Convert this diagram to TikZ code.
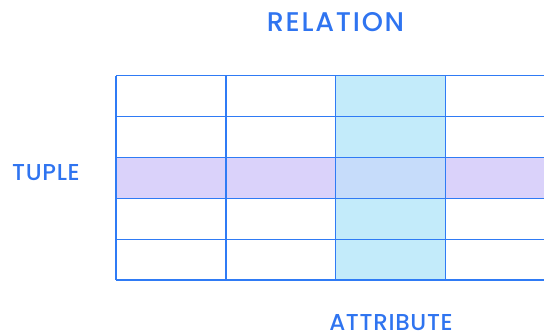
\documentclass[tikz,border=0pt]{standalone}
\usepackage{fontspec}
\setmainfont{Poppins Medium}
\definecolor{gridblue}{HTML}{2F7BF5}
\definecolor{colfill}{HTML}{C3EBFA}
\definecolor{rowfill}{HTML}{DAD2FA}
\definecolor{bothfill}{HTML}{C6DCFA}
\definecolor{labelblue}{HTML}{2F74F0}
\tikzset{
  gridline/.style={draw=gridblue, line width=1.6pt},
  title/.style={text=labelblue, font=\fontsize{27}{30}\selectfont\addfontfeatures{LetterSpace=6.5}, inner sep=0pt, anchor=base},
  side/.style={text=labelblue, font=\fontsize{23}{26}\selectfont\addfontfeatures{LetterSpace=3}, inner sep=0pt, anchor=base}
}
\begin{document}
\begin{tikzpicture}[x=1pt,y=-1pt]
  \useasboundingbox (0,0) rectangle (544,332);
  % highlighted attribute column and tuple row
  \fill[colfill] (335.5,75.5) rectangle (445.5,280);
  \fill[rowfill] (116,157.5) rectangle (544,198.5);
  \fill[bothfill] (335.5,157.5) rectangle (445.5,198.5);
  % grid
  \foreach \y in {75.5,116.5,157.5,198.5,239.5,280}
    \draw[gridline] (116,\y) -- (545,\y);
  \foreach \x in {116,226,335.5,445.5}
    \draw[gridline] (\x,75.5) -- (\x,280);
  % labels
  \node[title] (rel) at (335.5,31) {RELATION};
  \node[side] (tup) at (46,180) {TUPLE};
  \node[side] (att) at (391,330) {ATTRIBUTE};
\end{tikzpicture}
\end{document}
